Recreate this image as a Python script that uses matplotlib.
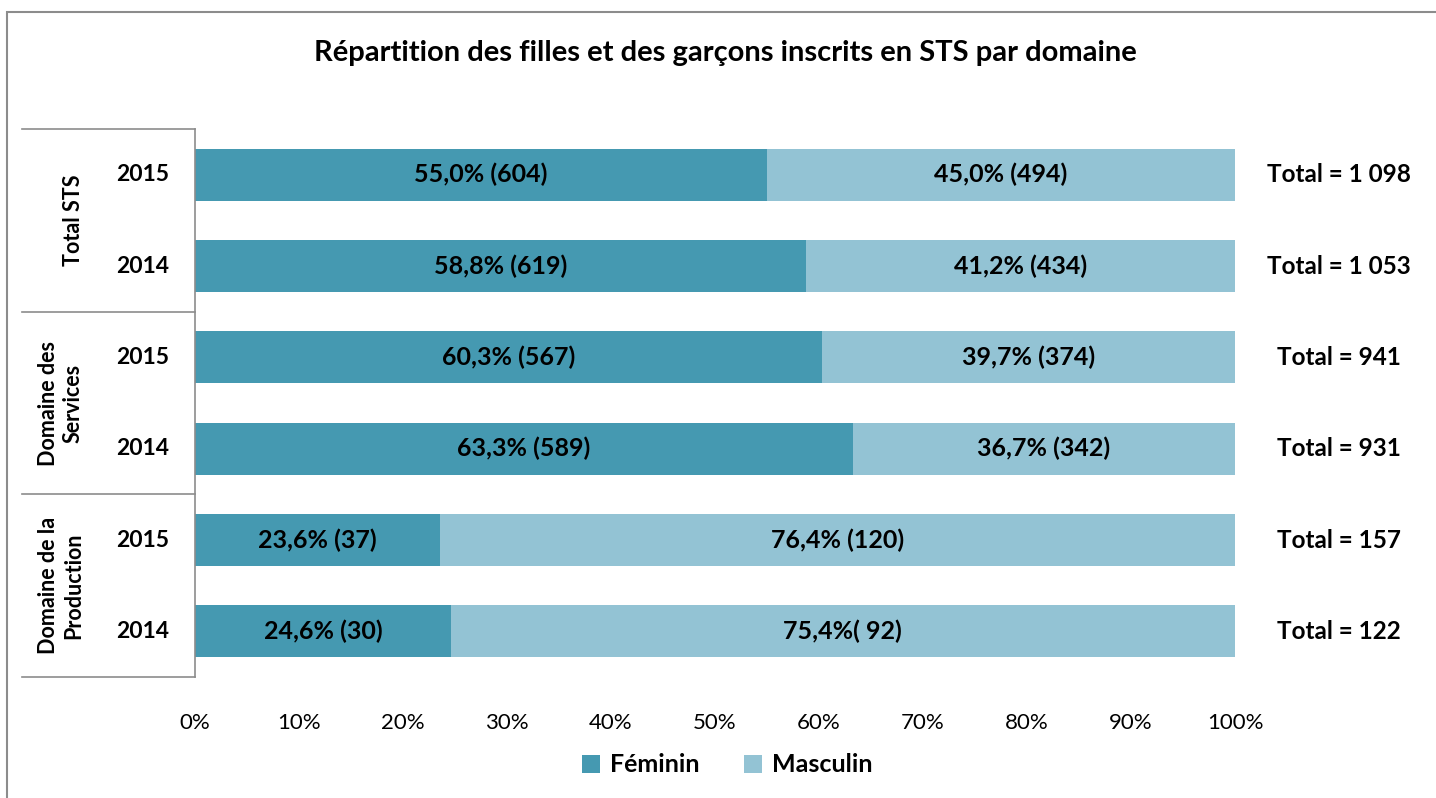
import numpy as np
import matplotlib.pyplot as plt
from matplotlib.patches import Rectangle
from matplotlib.transforms import blended_transform_factory

plt.rcParams['font.family'] = ['Lato', 'DejaVu Sans']

# data, top to bottom
groupes = ['Total STS', 'Domaine des\nServices', 'Domaine de la\nProduction']
annees = ['2015', '2014', '2015', '2014', '2015', '2014']
feminin = [604, 619, 567, 589, 37, 30]
masculin = [494, 434, 374, 342, 120, 92]
lab_fem = ['55,0% (604)', '58,8% (619)', '60,3% (567)', '63,3% (589)', '23,6% (37)', '24,6% (30)']
lab_masc = ['45,0% (494)', '41,2% (434)', '39,7% (374)', '36,7% (342)', '76,4% (120)', '75,4%( 92)']

col_fem = '#4599b1'
col_masc = '#93c3d4'

fem = np.array(feminin, dtype=float)
masc = np.array(masculin, dtype=float)
tot = fem + masc
p_fem = fem / tot * 100
p_masc = masc / tot * 100

W, H = 1436, 798
fig = plt.figure(figsize=(W / 100, H / 100), dpi=100)
fig.patches.append(Rectangle((7 / W, -0.01), 1.02, 1 - 12 / H + 0.01, transform=fig.transFigure,
                             fill=False, edgecolor='#8c8c8c', lw=1.5))

ax = fig.add_axes([195 / W, 1 - 677 / H, 1040 / W, 548 / H])
y = np.arange(len(annees))
ax.barh(y, p_fem, height=0.57, color=col_fem, label='Féminin')
ax.barh(y, p_masc, left=p_fem, height=0.57, color=col_masc, label='Masculin')
ax.set_ylim(len(annees) - 0.5, -0.5)
ax.set_xlim(0, 100)

for i in range(len(annees)):
    ax.text(p_fem[i] / 2, i, lab_fem[i], ha='center', va='center', fontsize=18, fontweight='bold', color='black')
    ax.text(p_fem[i] + p_masc[i] / 2, i, lab_masc[i], ha='center', va='center', fontsize=18, fontweight='bold', color='black')
    t = int(tot[i])
    ts = '{:,}'.format(t).replace(',', ' ')
    ax.text(110.0, i, 'Total = ' + ts, ha='center', va='center', fontsize=17.5, fontweight='bold')

ax.set_xticks(np.arange(0, 101, 10))
ax.set_xticklabels([f'{v}%' for v in range(0, 101, 10)], fontsize=16)
ax.tick_params(axis='x', length=0, pad=26)
ax.set_yticks([])
for s in ['top', 'right', 'bottom']:
    ax.spines[s].set_visible(False)
ax.spines['left'].set_color('#8c8c8c')
ax.spines['left'].set_linewidth(1.2)

# multi-level category axis
tr = blended_transform_factory(ax.transAxes, ax.transData)
x_left = (22 - 195) / 1040
for b in [-0.5, 1.5, 3.5, 5.5]:
    ax.plot([x_left, 0], [b, b], color='#8c8c8c', lw=1.2, transform=tr, clip_on=False)
for i, a in enumerate(annees):
    ax.text((143 - 195) / 1040, i, a, transform=tr, ha='center', va='center', fontsize=16.5, fontweight='bold')
for g, nom in enumerate(groupes):
    ax.text((84 - 195) / 1040, 2 * g + 0.5, nom, transform=tr, ha='right', va='center',
            rotation=90, fontsize=15.5, fontweight='bold', linespacing=1.25, multialignment='center')

fig.text(725 / W, 1 - 53 / H, 'Répartition des filles et des garçons inscrits en STS par domaine',
         ha='center', va='center', fontsize=21, fontweight='bold')

fig.legend(loc='center', bbox_to_anchor=(727 / W, 1 - 765 / H), ncol=2, frameon=False,
           prop={'size': 18, 'weight': 'bold'}, handlelength=0.7, handleheight=0.7,
           handletextpad=0.4, columnspacing=1.8)

fig.savefig('out.png', dpi=100)
